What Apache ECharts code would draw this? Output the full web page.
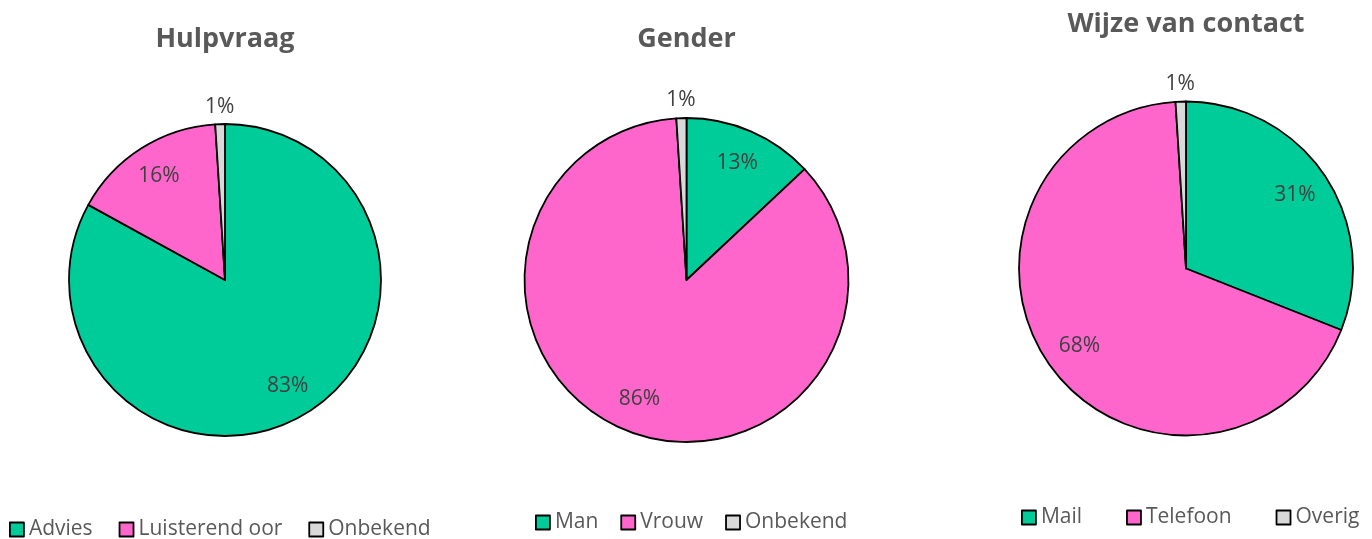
<!DOCTYPE html>
<html>
<head>
<meta charset="utf-8">
<script src="https://cdn.jsdelivr.net/npm/echarts@6/dist/echarts.min.js"></script>
<style>
  html, body { margin: 0; padding: 0; background: #fff; }
  #chart { width: 1372px; height: 539px; }
</style>
</head>
<body>
<div id="chart"></div>
<script>
// data per pie
var hulpCats = ['Advies', 'Luisterend oor', 'Onbekend'];
var hulpVals = [83, 16, 1];
var genderCats = ['Man', 'Vrouw', 'Onbekend'];
var genderVals = [13, 86, 1];
var contactCats = ['Mail', 'Telefoon', 'Overig'];
var contactVals = [31, 68, 1];
var titles = ['Hulpvraag', 'Gender', 'Wijze van contact'];

var colors = ['#00CC99', '#FF66CC', '#D9D9D9'];
var font = 'Open Sans';

// pie geometry in px: center x, center y, radius
var pies = [
  { cats: hulpCats, vals: hulpVals, cx: 225, cy: 280, r: 156, titleTop: 26, legendLeft: 9, legendTop: 519, gap: 26 },
  { cats: genderCats, vals: genderVals, cx: 686.5, cy: 280, r: 162, titleTop: 26, legendLeft: 535, legendTop: 512, gap: 22 },
  { cats: contactCats, vals: contactVals, cx: 1186, cy: 268.5, r: 167, titleTop: 11, legendLeft: 1021, legendTop: 507, gap: 44 }
];

var chart = echarts.init(document.getElementById('chart'));

var series = [];
var title = [];
var legend = [];

// main pies first so the legends take their colours
pies.forEach(function (p, i) {
  series.push({
    name: titles[i],
    type: 'pie',
    center: [p.cx, p.cy],
    radius: [0, p.r],
    startAngle: 90,
    label: { show: false },
    labelLine: { show: false },
    emphasis: { disabled: true },
    itemStyle: { borderColor: '#000', borderWidth: 1.8 },
    data: p.cats.map(function (c, j) {
      return { name: c, value: p.vals[j], itemStyle: { color: colors[j] } };
    })
  });
});

// transparent rings that only carry the labels (inner for big slices, outer for tiny ones)
pies.forEach(function (p, i) {
  [[0.54, 1, true], [1, 1.18, false]].forEach(function (ring) {
    series.push({
      name: titles[i] + '-labels',
      type: 'pie',
      silent: true,
      center: [p.cx, p.cy],
      radius: [p.r * ring[0], p.r * ring[1]],
      startAngle: 90,
      emphasis: { disabled: true },
      labelLine: { show: false },
      itemStyle: { color: 'rgba(0,0,0,0)', borderWidth: 0 },
      label: {
        position: 'inside',
        formatter: '{c}%',
        color: '#404040',
        fontSize: 21,
        fontFamily: font
      },
      data: p.cats.map(function (c, j) {
        var big = p.vals[j] >= 5;
        return { name: c, value: p.vals[j], label: { show: ring[2] ? big : !big } };
      })
    });
  });

  title.push({
    text: titles[i],
    left: p.cx,
    top: p.titleTop,
    textAlign: 'center',
    padding: 0,
    textStyle: { fontFamily: font, fontSize: 27, fontWeight: 'bold', color: '#595959' }
  });

  legend.push({
    data: p.cats,
    left: p.legendLeft,
    top: p.legendTop,
    padding: 0,
    itemWidth: 14,
    itemHeight: 14,
    itemGap: p.gap,
    icon: 'rect',
    selectedMode: false,
    itemStyle: { borderColor: '#000', borderWidth: 1.8 },
    textStyle: { fontFamily: font, fontSize: 21, color: '#595959' }
  });
});

chart.setOption({
  animation: false,
  title: title,
  legend: legend,
  series: series
});
</script>
</body>
</html>
